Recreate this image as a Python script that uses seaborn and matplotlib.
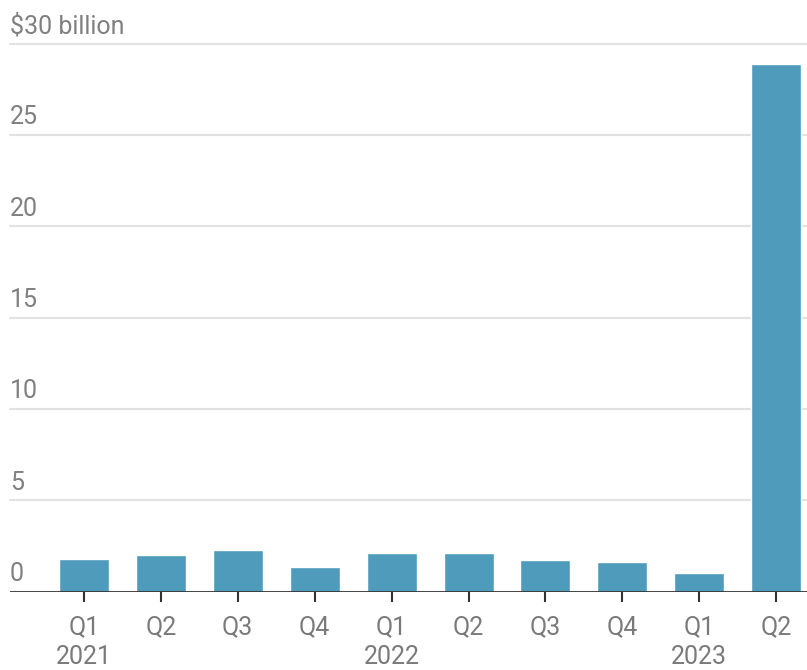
import pandas as pd
import numpy as np
import matplotlib
matplotlib.use('Agg')
import matplotlib.pyplot as plt
import matplotlib.transforms as mtransforms
import seaborn as sns

# Quarterly values, $ billion
quarters = ['Q1', 'Q2', 'Q3', 'Q4', 'Q1', 'Q2', 'Q3', 'Q4', 'Q1', 'Q2']
years = ['2021', '', '', '', '2022', '', '', '', '2023', '']
values = [1.78, 2.0, 2.26, 1.32, 2.09, 2.09, 1.72, 1.63, 1.01, 28.87]
ytick_vals = [0, 5, 10, 15, 20, 25, 30]
ytick_labels = ['0', '5', '10', '15', '20', '25', '$30 billion']

labels = [q + '\n' + y if y else q for q, y in zip(quarters, years)]
df = pd.DataFrame({'period': [f'{i}' for i in range(len(values))], 'value': values})

sns.set_style('white')
plt.rcParams['font.family'] = ['Roboto', 'DejaVu Sans']

fig = plt.figure(figsize=(8.07, 6.70), dpi=100)
ax = fig.add_axes([10 / 807, 1 - 591.5 / 670, 797 / 807, (591.5 - 43.7) / 670])

sns.barplot(data=df, x='period', y='value', color='#4f9bbb', saturation=1,
            width=0.65, ax=ax, zorder=3)

ax.set_ylim(0, 30)
ax.set_xlim(-0.96, 9.4)
for v in ytick_vals[1:]:
    ax.axhline(v, color='#e2e2e2', lw=1.5, zorder=1, clip_on=False)
ax.axhline(0, color='#333333', lw=2, zorder=4)

trans = mtransforms.blended_transform_factory(ax.transAxes, ax.transData)
for v, lab in zip(ytick_vals, ytick_labels):
    ax.annotate(lab, xy=(0, v), xycoords=trans, xytext=(0, 4), textcoords='offset points',
                ha='left', va='bottom', fontsize=18, color='#808080')

ax.set_yticks([])
ax.set_xticks(range(len(labels)))
ax.set_xticklabels(labels, fontsize=18, color='#7a7a7a', linespacing=1.3, va='top')
ax.tick_params(axis='x', length=7, width=1.5, color='#333333', pad=10, bottom=True)
ax.set_xlabel('')
ax.set_ylabel('')
for s in ax.spines.values():
    s.set_visible(False)

fig.savefig('out.png', dpi=100)
